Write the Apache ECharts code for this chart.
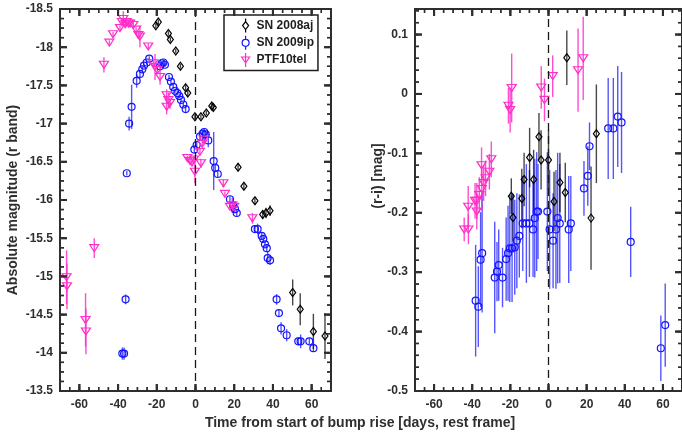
<!DOCTYPE html>
<html>
<head>
<meta charset="utf-8">
<script src="https://cdn.jsdelivr.net/npm/echarts@6/dist/echarts.min.js"></script>
<style>
  html, body { margin: 0; padding: 0; background: #fff; }
  #chart { width: 682px; height: 435px; }
</style>
</head>
<body>
<div id="chart"></div>
<script>
// ---------- light curves (absolute r-band magnitude vs. rest-frame days) ----------
const ajDay = [-20.5, -19.2, -14.0, -13.0, -10.2, -7.8, -5.1, -4.0, -0.3, 2.8, 5.6, 8.4, 9.2, 22.0, 25.0, 30.7, 34.7, 36.4, 38.5, 50.2, 54.1, 60.9, 66.9];
const ajMag = [-18.28, -18.33, -18.18, -18.10, -17.95, -17.75, -17.47, -17.40, -17.09, -17.09, -17.14, -17.23, -17.21, -16.43, -16.18, -15.99, -15.81, -15.83, -15.86, -14.79, -14.57, -14.28, -14.22];
const ajMagErr = [0.03, 0.03, 0.03, 0.03, 0.03, 0.03, 0.04, 0.04, 0.03, 0.03, 0.03, 0.04, 0.04, 0.05, 0.04, 0.05, 0.06, 0.07, 0.07, 0.17, 0.21, 0.23, 0.30];

const ipDay = [-37.8, -36.9, -36.1, -35.5, -34.3, -33.0, -30.4, -28.7, -27.5, -26.6, -25.2, -23.9, -18.3, -17.5, -16.6, -15.8, -13.7, -12.7, -11.5, -10.6, -9.4, -8.4, -7.5, -6.3, -5.1, -0.6, 0.6, 2.3, 3.7, 4.5, 5.3, 6.6, 9.4, 10.2, 11.5, 17.8, 19.5, 20.4, 21.3, 30.7, 32.1, 34.2, 35.0, 35.9, 36.8, 37.3, 38.5, 41.9, 43.1, 44.2, 47.1, 53.1, 54.3, 58.8, 60.9];
const ipMag = [-13.99, -13.99, -14.70, -16.35, -17.00, -17.22, -17.56, -17.65, -17.71, -17.76, -17.80, -17.85, -17.75, -17.79, -17.80, -17.77, -17.61, -17.55, -17.48, -17.43, -17.40, -17.36, -17.31, -17.25, -17.19, -16.66, -16.72, -16.83, -16.87, -16.89, -16.86, -16.78, -16.51, -16.42, -16.34, -16.01, -15.93, -15.88, -15.83, -15.62, -15.62, -15.53, -15.49, -15.42, -15.37, -15.24, -15.21, -14.70, -14.52, -14.32, -14.23, -14.15, -14.15, -14.15, -14.06];
const ipMagErr = [0.08, 0.08, 0.065, 0.03, 0.09, 0.29, 0.09, 0.04, 0.04, 0.03, 0.03, 0.03, 0.04, 0.03, 0.03, 0.03, 0.03, 0.03, 0.03, 0.03, 0.03, 0.03, 0.03, 0.03, 0.05, 0.04, 0.04, 0.03, 0.04, 0.04, 0.04, 0.09, 0.38, 0.04, 0.04, 0.04, 0.03, 0.04, 0.04, 0.05, 0.07, 0.04, 0.04, 0.04, 0.05, 0.08, 0.06, 0.07, 0.04, 0.08, 0.08, 0.05, 0.09, 0.04, 0.05];

const telDay = [-66.6, -66.4, -56.8, -56.6, -52.3, -47.3, -44.5, -42.6, -39.0, -38.0, -37.3, -36.3, -35.5, -34.6, -33.8, -32.1, -30.7, -29.5, -28.7, -24.4, -21.8, -20.9, -19.7, -18.3, -14.9, -14.9, -14.0, -13.2, -4.2, -2.8, -1.8, -0.8, -0.3, 2.3, 2.8, 3.5, 4.2, 14.4, 15.2, 17.8, 19.0, 20.0, 29.4];
const telMag = [-14.99, -14.87, -14.43, -14.28, -15.37, -17.77, -18.06, -18.17, -18.25, -18.33, -18.37, -18.30, -18.33, -18.31, -18.31, -18.29, -18.23, -18.16, -18.14, -18.01, -17.79, -17.74, -17.70, -17.61, -17.37, -17.22, -17.31, -17.27, -16.55, -16.51, -16.49, -16.53, -16.37, -16.63, -16.48, -16.74, -16.79, -16.22, -16.08, -15.91, -15.93, -15.91, -15.76];
const telMagErr = [0.35, 0.3, 0.35, 0.3, 0.13, 0.1, 0.03, 0.03, 0.03, 0.04, 0.1, 0.04, 0.03, 0.03, 0.03, 0.03, 0.03, 0.05, 0.14, 0.04, 0.04, 0.17, 0.04, 0.1, 0.08, 0.1, 0.1, 0.08, 0.03, 0.04, 0.04, 0.05, 0.15, 0.04, 0.06, 0.05, 0.04, 0.05, 0.03, 0.04, 0.1, 0.06, 0.07];

// ---------- (r-i) colour curves ----------
const ajColorDay = [-19.5, -18.6, -14.0, -12.8, -9.9, -7.8, -5.0, -3.9, 0.0, 2.9, 6.0, 8.8, 9.6, 22.3, 25.1];
const ajColor = [-0.172, -0.208, -0.176, -0.144, -0.107, -0.144, -0.072, -0.111, -0.111, -0.181, -0.149, -0.166, 0.061, -0.209, -0.067];
const ajColorErr = [0.03, 0.04, 0.05, 0.045, 0.05, 0.05, 0.04, 0.05, 0.05, 0.05, 0.05, 0.05, 0.046, 0.087, 0.083];

const ipColorDay = [-38.2, -36.8, -35.6, -34.8, -28.2, -27.0, -26.1, -24.1, -22.2, -21.2, -20.3, -19.1, -17.7, -16.6, -15.3, -13.5, -11.6, -10.0, -8.1, -7.2, -6.2, -5.5, -0.6, 0.6, 2.4, 3.9, 4.8, 5.9, 10.6, 11.7, 18.6, 20.6, 21.5, 31.3, 34.0, 36.3, 38.3, 43.1, 58.9, 61.2];
const ipColor = [-0.348, -0.358, -0.279, -0.268, -0.309, -0.299, -0.288, -0.309, -0.278, -0.268, -0.260, -0.260, -0.258, -0.247, -0.239, -0.218, -0.218, -0.218, -0.228, -0.209, -0.198, -0.198, -0.198, -0.228, -0.247, -0.228, -0.209, -0.218, -0.228, -0.218, -0.159, -0.138, -0.088, -0.058, -0.058, -0.038, -0.048, -0.249, -0.428, -0.389];
const ipColorErr = [0.094, 0.068, 0.08, 0.1, 0.094, 0.05, 0.06, 0.05, 0.07, 0.08, 0.09, 0.09, 0.08, 0.08, 0.07, 0.08, 0.1, 0.09, 0.08, 0.1, 0.1, 0.08, 0.1, 0.1, 0.08, 0.1, 0.11, 0.1, 0.09, 0.08, 0.046, 0.05, 0.04, 0.085, 0.085, 0.085, 0.085, 0.059, 0.055, 0.07];

const telColorDay = [-44.2, -42.0, -42.1, -38.5, -37.6, -37.6, -36.3, -35.1, -35.0, -34.0, -33.0, -31.0, -30.0, -21.0, -20.1, -19.3, -3.8, -2.1, 2.2, 15.5, 18.2];
const telColor = [-0.228, -0.228, -0.190, -0.180, -0.180, -0.198, -0.170, -0.120, -0.160, -0.150, -0.142, -0.131, -0.110, -0.020, -0.027, 0.010, 0.011, -0.010, 0.030, 0.040, 0.060];
const telColorErr = [0.02, 0.025, 0.035, 0.03, 0.03, 0.03, 0.03, 0.03, 0.035, 0.03, 0.03, 0.03, 0.03, 0.03, 0.038, 0.058, 0.036, 0.036, 0.035, 0.07, 0.07];

// ---------- tick labels ----------
const dayTicks = [-60, -40, -20, 0, 20, 40, 60];
const magTicks = [-18.5, -18, -17.5, -17, -16.5, -16, -15.5, -15, -14.5, -14, -13.5];
const colorTicks = [-0.5, -0.4, -0.3, -0.2, -0.1, 0, 0.1];

const legendNames = ['SN 2008aj', 'SN 2009ip', 'PTF10tel'];

// ---------- styling ----------
const FONT = "'Liberation Sans', Arial, Helvetica, sans-serif";
const INK = '#2e2e2e';
const BLACK = '#000000';
const BLUE = '#1414ff';
const PINK = '#ff2ec8';
const BAR_BLACK = 'rgba(0,0,0,0.72)';
const BAR_BLUE = 'rgba(20,20,255,0.72)';
const BAR_PINK = 'rgba(255,46,200,0.85)';

const labelStyle = { color: INK, fontWeight: 'bold', fontSize: 12, fontFamily: FONT };

// minor tick positions between the labelled ones
function steps(from, to, step) {
  const out = [];
  const n = Math.round((to - from) / step);
  for (let i = 0; i <= n; i++) out.push(+(from + i * step).toFixed(4));
  return out;
}
const dayMinor = steps(-70, 70, 5);
const magMinor = steps(-18.5, -13.5, 0.125);
const colorMinor = steps(-0.5, 0.14, 0.02);

const DAY_RANGE = [-70, 70];
const MAG_RANGE = [-18.5, -13.5];
const COLOR_RANGE = [-0.5, 0.143];

// Each panel: a framed grid holding the bottom/left axes (with labels) and an
// overlapping grid holding the top/right axes.
const PANEL_LEFT = { left: 60, top: 9, width: 271, height: 382 };
const PANEL_RIGHT = { left: 415, top: 9, width: 271, height: 382 };
const FRAME = { show: true, borderColor: INK, borderWidth: 2, backgroundColor: 'rgba(0,0,0,0)' };

function frameAxis(gridIndex, position, scale, labels) {
  return Object.assign({
    type: 'value', gridIndex, position,
    splitLine: { show: false },
    minorSplitLine: { show: false },
    axisLine: { show: true, onZero: false, lineStyle: { color: INK } },
    axisTick: { show: false },
    minorTick: { show: false },
    axisLabel: labels
      ? Object.assign({ show: true, customValues: labels, margin: (position === 'bottom') ? 8 : 7 }, labelStyle)
      : { show: false }
  }, scale);
}

const dayScale = { min: DAY_RANGE[0], max: DAY_RANGE[1], splitNumber: 7 };
const magScale = { min: MAG_RANGE[0], max: MAG_RANGE[1], interval: 0.5, inverse: true };
const colorScale = { min: COLOR_RANGE[0], max: COLOR_RANGE[1], interval: 0.1 };

const xAxes = [
  frameAxis(0, 'bottom', dayScale, dayTicks),
  frameAxis(1, 'top', dayScale, null),
  frameAxis(2, 'bottom', dayScale, dayTicks),
  frameAxis(3, 'top', dayScale, null)
];
const yAxes = [
  frameAxis(0, 'left', magScale, magTicks),
  frameAxis(1, 'right', magScale, null),
  frameAxis(2, 'left', colorScale, colorTicks),
  frameAxis(3, 'right', colorScale, null)
];

// Inward tick marks on all four sides of a panel, placed through the panel's scales.
function tickSeries(axisIndex, xr, yr, xMajor, xMinor, yMajor, yMinor) {
  const data = [];
  xMinor.forEach(v => data.push([v, 0, 0]));
  yMinor.forEach(v => data.push([v, 1, 0]));
  xMajor.forEach(v => data.push([v, 0, 1]));
  yMajor.forEach(v => data.push([v, 1, 1]));
  return {
    type: 'custom', name: 'frame ticks', xAxisIndex: axisIndex, yAxisIndex: axisIndex,
    silent: true, clip: false, z: 5, data,
    renderItem(params, api) {
      const v = api.value(0);
      const isY = api.value(1) === 1;
      const major = api.value(2) === 1;
      const len = major ? 7 : 4;
      const lw = major ? 2 : 1.4;
      if (!isY) {
        const p1 = api.coord([v, yr[0]]), p2 = api.coord([v, yr[1]]);
        const yb = Math.max(p1[1], p2[1]), yt = Math.min(p1[1], p2[1]);
        return {
          type: 'group', children: [
            { type: 'line', shape: { x1: p1[0], y1: yb, x2: p1[0], y2: yb - len }, style: { stroke: INK, lineWidth: lw } },
            { type: 'line', shape: { x1: p1[0], y1: yt, x2: p1[0], y2: yt + len }, style: { stroke: INK, lineWidth: lw } }
          ]
        };
      }
      const q1 = api.coord([xr[0], v]), q2 = api.coord([xr[1], v]);
      const xl = Math.min(q1[0], q2[0]), xg = Math.max(q1[0], q2[0]);
      return {
        type: 'group', children: [
          { type: 'line', shape: { x1: xl, y1: q1[1], x2: xl + len, y2: q1[1] }, style: { stroke: INK, lineWidth: lw } },
          { type: 'line', shape: { x1: xg, y1: q1[1], x2: xg - len, y2: q1[1] }, style: { stroke: INK, lineWidth: lw } }
        ]
      };
    }
  };
}

function errorSeries(name, axisIndex, xs, ys, es, stroke) {
  return {
    type: 'custom', name, xAxisIndex: axisIndex, yAxisIndex: axisIndex, clip: true, silent: true, z: 2,
    encode: { x: 0, y: 1 },
    data: xs.map((x, i) => [x, ys[i], es[i]]),
    renderItem(params, api) {
      const x = api.value(0), y = api.value(1), d = api.value(2);
      const a = api.coord([x, y - d]);
      const b = api.coord([x, y + d]);
      return {
        type: 'line',
        shape: { x1: a[0], y1: a[1], x2: b[0], y2: b[1] },
        style: { stroke, lineWidth: 1.4 }
      };
    }
  };
}

function markerSeries(name, axisIndex, xs, ys, symbol, size, color, rotate) {
  return {
    type: 'scatter', name, xAxisIndex: axisIndex, yAxisIndex: axisIndex, z: 3, clip: true,
    symbol, symbolSize: size, symbolRotate: rotate || 0,
    itemStyle: { color: 'rgba(0,0,0,0)', borderColor: color, borderWidth: 1.2, opacity: 1 },
    emphasis: { disabled: true },
    data: xs.map((x, i) => [x, ys[i]])
  };
}

const zeroLine = {
  silent: true, symbol: ['none', 'none'], label: { show: false }, animation: false,
  lineStyle: { color: '#1a1a1a', width: 1.3, type: [8, 5] },
  emphasis: { disabled: true },
  data: [{ xAxis: 0 }]
};

const DIAMOND_ICON = 'path://M6,0 L6,3 M6,11 L6,14 M6,3 L9,7 L6,11 L3,7 Z';
const CIRCLE_ICON = 'path://M6,0 L6,3.5 M6,10.5 L6,14 M9.5,7 A3.5,3.5 0 1 1 2.5,7 A3.5,3.5 0 1 1 9.5,7 Z';
const TRIANGLE_ICON = 'path://M6,0 L6,14 M2,4 L10,4 L6,10 Z';

const ajLeft = markerSeries(legendNames[0], 0, ajDay, ajMag, 'diamond', [6, 8], BLACK);
ajLeft.markLine = zeroLine;
const ajRight = markerSeries(legendNames[0], 2, ajColorDay, ajColor, 'diamond', [6, 8], BLACK);
ajRight.markLine = zeroLine;

const series = [
  tickSeries(0, DAY_RANGE, MAG_RANGE, dayTicks, dayMinor, magTicks, magMinor),
  tickSeries(2, DAY_RANGE, COLOR_RANGE, dayTicks, dayMinor, colorTicks, colorMinor),
  errorSeries('SN 2009ip mag err', 0, ipDay, ipMag, ipMagErr, BAR_BLUE),
  errorSeries('PTF10tel mag err', 0, telDay, telMag, telMagErr, BAR_PINK),
  errorSeries('SN 2008aj mag err', 0, ajDay, ajMag, ajMagErr, BAR_BLACK),
  errorSeries('SN 2009ip colour err', 2, ipColorDay, ipColor, ipColorErr, BAR_BLUE),
  errorSeries('PTF10tel colour err', 2, telColorDay, telColor, telColorErr, BAR_PINK),
  errorSeries('SN 2008aj colour err', 2, ajColorDay, ajColor, ajColorErr, BAR_BLACK),
  ajLeft,
  markerSeries(legendNames[1], 0, ipDay, ipMag, 'circle', 7, BLUE),
  markerSeries(legendNames[2], 0, telDay, telMag, 'triangle', [9, 7], PINK, 180),
  ajRight,
  markerSeries(legendNames[1], 2, ipColorDay, ipColor, 'circle', 7, BLUE),
  markerSeries(legendNames[2], 2, telColorDay, telColor, 'triangle', [9, 7], PINK, 180)
];

const legendIcons = [DIAMOND_ICON, CIRCLE_ICON, TRIANGLE_ICON];
const legendColors = [BLACK, BLUE, PINK];

const titleTexts = [
  {
    type: 'text', x: 13, y: 200, rotation: Math.PI / 2, silent: true,
    style: { text: 'Absolute magnitude (r band)', font: 'bold 14px ' + FONT, fill: INK, align: 'center', verticalAlign: 'middle' }
  },
  {
    type: 'text', x: 378, y: 176, rotation: Math.PI / 2, silent: true,
    style: { text: '(r-i) [mag]', font: 'bold 14px ' + FONT, fill: INK, align: 'center', verticalAlign: 'middle' }
  },
  {
    type: 'text', x: 360, y: 423, silent: true,
    style: { text: 'Time from start of bump rise [days, rest frame]', font: 'bold 14px ' + FONT, fill: INK, align: 'center', verticalAlign: 'middle' }
  }
];

const option = {
  animation: false,
  backgroundColor: '#ffffff',
  grid: [
    Object.assign({}, PANEL_LEFT, FRAME),
    Object.assign({}, PANEL_LEFT),
    Object.assign({}, PANEL_RIGHT, FRAME),
    Object.assign({}, PANEL_RIGHT)
  ],
  xAxis: xAxes,
  yAxis: yAxes,
  legend: {
    orient: 'vertical', left: 224, top: 15, z: 10,
    selectedMode: false,
    data: legendNames.map((name, i) => ({
      name, icon: legendIcons[i],
      itemStyle: { color: 'rgba(0,0,0,0)', borderColor: legendColors[i], borderWidth: 1.2 }
    })),
    itemWidth: 12, itemHeight: 14, itemGap: 2,
    textStyle: { color: '#1e1e1e', fontWeight: 'bold', fontSize: 12, fontFamily: FONT },
    backgroundColor: '#ffffff',
    borderColor: '#1e1e1e', borderWidth: 1.5, borderRadius: 0,
    padding: [3, 4, 3, 17]
  },
  graphic: titleTexts,
  series
};

const chart = echarts.init(document.getElementById('chart'), null, { renderer: 'canvas' });
chart.setOption(option);

// Frame tick marks as top-level graphic lines, positioned with each panel's scales.
function frameTickLines(gridIndex, xr, yr, xMajor, xMinor, yMajor, yMinor) {
  const els = [];
  const line = (x1, y1, x2, y2, major) => els.push({
    type: 'line', silent: true, z: 50,
    shape: { x1, y1, x2, y2 },
    style: { stroke: INK, lineWidth: major ? 2 : 1.4 }
  });
  const alongX = (v, major) => {
    const a = chart.convertToPixel({ gridIndex }, [v, yr[0]]);
    const b = chart.convertToPixel({ gridIndex }, [v, yr[1]]);
    const len = major ? 7 : 4;
    const yb = Math.max(a[1], b[1]), yt = Math.min(a[1], b[1]);
    line(a[0], yb, a[0], yb - len, major);
    line(a[0], yt, a[0], yt + len, major);
  };
  const alongY = (v, major) => {
    const a = chart.convertToPixel({ gridIndex }, [xr[0], v]);
    const b = chart.convertToPixel({ gridIndex }, [xr[1], v]);
    const len = major ? 7 : 4;
    const xl = Math.min(a[0], b[0]), xg = Math.max(a[0], b[0]);
    line(xl, a[1], xl + len, a[1], major);
    line(xg, a[1], xg - len, a[1], major);
  };
  xMinor.forEach(v => alongX(v, false));
  yMinor.forEach(v => alongY(v, false));
  xMajor.forEach(v => alongX(v, true));
  yMajor.forEach(v => alongY(v, true));
  return els;
}

try {
  const tickLines = frameTickLines(0, DAY_RANGE, MAG_RANGE, dayTicks, dayMinor, magTicks, magMinor)
    .concat(frameTickLines(2, DAY_RANGE, COLOR_RANGE, dayTicks, dayMinor, colorTicks, colorMinor));
  chart.setOption({ graphic: titleTexts.concat(tickLines) });
} catch (e) {
  // keep the chart without the extra tick layer
}
</script>
</body>
</html>
